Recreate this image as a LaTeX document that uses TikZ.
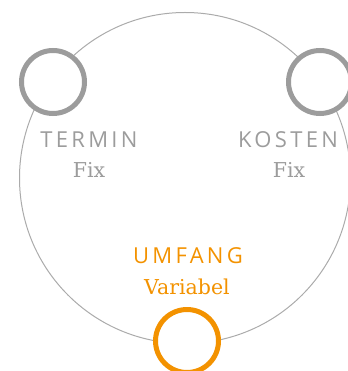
\documentclass[tikz,border=0pt]{standalone}
\usepackage{fontspec}
\setmainfont{DejaVu Serif}
\newfontfamily\labelsans[LetterSpace=15]{Open Sans}
\definecolor{ringgrey}{HTML}{9C9C9C}
\definecolor{linegrey}{HTML}{ABABAB}
\definecolor{accent}{HTML}{F39200}
\begin{document}
\begin{tikzpicture}[x=1pt,y=-1pt,
  ring/.style={circle,draw=ringgrey,line width=5pt,minimum size=63pt,inner sep=0pt},
  title/.style={font=\labelsans\fontsize{22}{22}\selectfont,text=ringgrey,anchor=base},
  sub/.style={font=\fontsize{20.5}{20.5}\selectfont,text=ringgrey,anchor=base}]
\useasboundingbox (0,0) rectangle (347,371);
\draw[linegrey,line width=1pt] (185,178) circle[radius=165.5];
\node[ring,fill=white] (termin) at (53,82) {};
\node[ring,fill=white] (kosten) at (320,82) {};
\node[ring,fill=white,draw=accent] (umfang) at (187,341) {};
\node[title] (t1) at (89,148) {TERMIN};
\node[sub] (t2) at (89,178) {Fix};
\node[title] (k1) at (288,148) {KOSTEN};
\node[sub] (k2) at (289,178) {Fix};
\node[title,text=accent] (u1) at (188,263) {UMFANG};
\node[sub,text=accent] (u2) at (187,294) {Variabel};
\end{tikzpicture}
\end{document}
